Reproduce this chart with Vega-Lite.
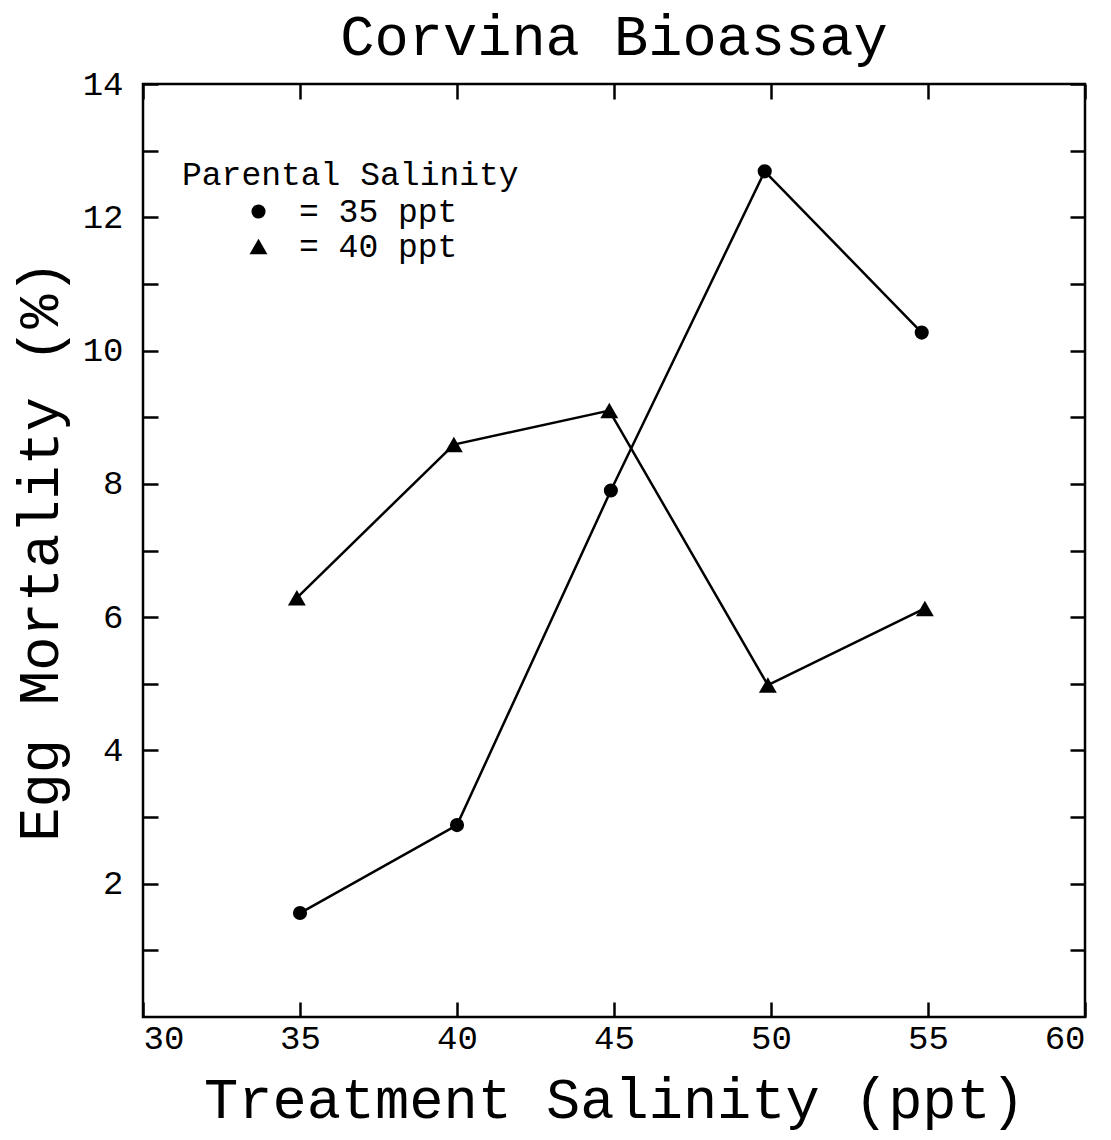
{
  "$schema": "https://vega.github.io/schema/vega-lite/v6.json",
  "width": 942,
  "height": 933,
  "autosize": "none",
  "padding": {"left": 143, "top": 84, "right": 26, "bottom": 123},
  "background": "white",
  "title": {
    "text": "Corvina Bioassay",
    "font": "Liberation Mono",
    "fontSize": 57,
    "fontWeight": "normal",
    "color": "black",
    "anchor": "middle",
    "offset": 0
  },
  "config": {
    "view": {"stroke": "black", "strokeWidth": 2.5},
    "axis": {
      "domain": false,
      "grid": false,
      "tickColor": "black",
      "tickWidth": 2.5,
      "tickSize": -15,
      "labelFont": "Liberation Mono",
      "labelFontSize": 34,
      "labelColor": "black",
      "titleFont": "Liberation Mono",
      "titleFontSize": 57,
      "titleFontWeight": "normal",
      "titleColor": "black"
    },
    "legend": {
      "orient": "none",
      "legendX": 39,
      "legendY": 75,
      "titleFont": "Liberation Mono",
      "titleFontSize": 33,
      "titleFontWeight": "normal",
      "titleColor": "black",
      "titleLimit": 600,
      "titlePadding": 3,
      "labelFont": "Liberation Mono",
      "labelFontSize": 33,
      "labelColor": "black",
      "labelLimit": 600,
      "labelOffset": 24,
      "symbolOffset": 60,
      "symbolFillColor": "black",
      "symbolStrokeColor": "black",
      "symbolStrokeWidth": 0,
      "rowPadding": 1
    }
  },
  "data": {
    "values": [
      {"treatment": 35.0, "mortality": 1.56, "parental": "35 ppt"},
      {"treatment": 40.0, "mortality": 2.88, "parental": "35 ppt"},
      {"treatment": 44.9, "mortality": 7.9, "parental": "35 ppt"},
      {"treatment": 49.8, "mortality": 12.69, "parental": "35 ppt"},
      {"treatment": 54.8, "mortality": 10.27, "parental": "35 ppt"},
      {"treatment": 34.9, "mortality": 6.29, "parental": "40 ppt"},
      {"treatment": 39.9, "mortality": 8.59, "parental": "40 ppt"},
      {"treatment": 44.85, "mortality": 9.1, "parental": "40 ppt"},
      {"treatment": 49.9, "mortality": 4.98, "parental": "40 ppt"},
      {"treatment": 54.9, "mortality": 6.13, "parental": "40 ppt"}
    ]
  },
  "layer": [
    {
      "mark": {"type": "line", "color": "black", "strokeWidth": 2.5},
      "encoding": {
        "x": {
          "field": "treatment",
          "type": "quantitative",
          "scale": {"domain": [30, 60], "nice": false, "zero": false},
          "axis": {
            "orient": "bottom",
            "values": [30, 35, 40, 45, 50, 55, 60],
            "labelPadding": 19,
            "title": "Treatment Salinity (ppt)",
            "titleBaseline": "alphabetic",
            "titlePadding": 62
          }
        },
        "y": {
          "field": "mortality",
          "type": "quantitative",
          "scale": {"domain": [0, 14], "nice": false},
          "axis": {
            "orient": "left",
            "values": [1, 2, 3, 4, 5, 6, 7, 8, 9, 10, 11, 12, 13, 14],
            "labelExpr": "datum.value % 2 == 0 ? datum.label : ''",
            "labelPadding": 35,
            "title": "Egg Mortality (%)",
            "titleBaseline": "alphabetic",
            "titlePadding": 25
          }
        },
        "detail": {"field": "parental"}
      }
    },
    {
      "mark": {"type": "point", "filled": true, "opacity": 1, "color": "black"},
      "encoding": {
        "x": {
          "field": "treatment",
          "type": "quantitative",
          "axis": {"orient": "top", "values": [30, 35, 40, 45, 50, 55, 60], "labels": false, "title": null}
        },
        "y": {
          "field": "mortality",
          "type": "quantitative",
          "axis": {"orient": "right", "values": [1, 2, 3, 4, 5, 6, 7, 8, 9, 10, 11, 12, 13, 14], "labels": false, "title": null}
        },
        "size": {
          "field": "parental",
          "type": "nominal",
          "scale": {"domain": ["35 ppt", "40 ppt"], "range": [200, 320]},
          "legend": {"title": "Parental Salinity", "labelExpr": "'= ' + datum.label"}
        },
        "shape": {
          "field": "parental",
          "type": "nominal",
          "scale": {"domain": ["35 ppt", "40 ppt"], "range": ["circle", "triangle-up"]},
          "legend": {"title": "Parental Salinity", "labelExpr": "'= ' + datum.label"}
        }
      }
    }
  ],
  "resolve": {"axis": {"x": "independent", "y": "independent"}}
}
